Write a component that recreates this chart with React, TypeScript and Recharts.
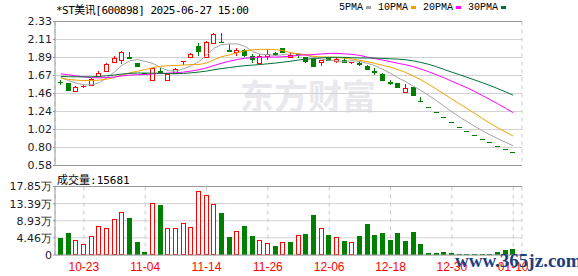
"use client"

import { Bar, ComposedChart, Line, XAxis, YAxis, CartesianGrid, ReferenceLine } from "recharts"

const dates = [
  "10-18", "10-21", "10-22", "10-23", "10-24", "10-25", "10-28", "10-29", "10-30", "10-31",
  "11-01", "11-04", "11-05", "11-06", "11-07", "11-08", "11-11", "11-12", "11-13", "11-14",
  "11-15", "11-18", "11-19", "11-20", "11-21", "11-22", "11-25", "11-26", "11-27", "11-28",
  "11-29", "12-02", "12-03", "12-04", "12-05", "12-06", "12-09", "12-10", "12-11", "12-12",
  "12-13", "12-16", "12-17", "12-18", "12-19", "12-20", "12-23", "12-24", "12-25", "12-26",
  "12-27", "12-30", "12-31", "01-02", "01-03", "01-06", "01-07", "01-08", "01-09", "01-10",
]

const opens = [
  1.60, 1.58, 1.48, 1.545, 1.56, 1.662, 1.73, 1.835, 1.863, 1.895,
  1.827, 1.70, 1.615, 1.725, 1.62, 1.702, 1.848, 1.896, 2.038, 1.90,
  2.066, 2.08, 1.98, 1.957, 1.981, 1.912, 1.827, 1.905, 1.945, 2.005,
  1.896, 1.935, 1.893, 1.872, 1.835, 1.884, 1.848, 1.863, 1.834, 1.822,
  1.795, 1.725, 1.698, 1.592, 1.577, 1.479, 1.528, 1.366, 1.29, 1.23,
  1.17, 1.11, 1.05, 1.00, 0.95, 0.90, 0.86, 0.82, 0.78, 0.74,
]
const highs = [
  1.62, 1.58, 1.55, 1.56, 1.645, 1.73, 1.82, 1.905, 1.97, 1.965,
  1.83, 1.70, 1.77, 1.76, 1.695, 1.76, 1.852, 1.945, 2.066, 2.09,
  2.19, 2.188, 2.06, 2.014, 2.00, 1.93, 1.93, 1.997, 1.965, 2.01,
  1.957, 1.935, 1.893, 1.875, 1.865, 1.90, 1.893, 1.90, 1.836, 1.849,
  1.80, 1.763, 1.70, 1.62, 1.58, 1.568, 1.53, 1.407, 1.29, 1.23,
  1.17, 1.11, 1.05, 1.00, 0.95, 0.90, 0.86, 0.82, 0.78, 0.74,
]
const lows = [
  1.56, 1.49, 1.48, 1.52, 1.555, 1.655, 1.72, 1.83, 1.811, 1.885,
  1.78, 1.70, 1.61, 1.69, 1.605, 1.70, 1.80, 1.89, 1.912, 1.89,
  2.06, 2.07, 1.97, 1.905, 1.90, 1.827, 1.82, 1.863, 1.912, 1.96,
  1.89, 1.885, 1.823, 1.775, 1.795, 1.855, 1.828, 1.83, 1.811, 1.79,
  1.74, 1.681, 1.62, 1.56, 1.52, 1.479, 1.43, 1.365, 1.29, 1.23,
  1.17, 1.11, 1.05, 1.00, 0.95, 0.90, 0.86, 0.82, 0.78, 0.74,
]
const closes = [
  1.59, 1.50, 1.53, 1.55, 1.633, 1.71, 1.81, 1.884, 1.965, 1.89,
  1.787, 1.70, 1.763, 1.72, 1.69, 1.754, 1.852, 1.941, 1.973, 2.079,
  2.184, 2.075, 1.975, 1.981, 1.924, 1.875, 1.908, 1.941, 1.94, 1.965,
  1.924, 1.93, 1.851, 1.795, 1.863, 1.86, 1.872, 1.835, 1.836, 1.818,
  1.747, 1.72, 1.625, 1.588, 1.54, 1.52, 1.438, 1.365, 1.29, 1.23,
  1.17, 1.11, 1.05, 1.00, 0.95, 0.90, 0.86, 0.82, 0.78, 0.74,
]
// closes of the 29 sessions before the window, needed for the moving averages
const priorCloses = [
  1.58, 1.57, 1.59, 1.60, 1.58, 1.56, 1.60, 1.62, 1.64, 1.66,
  1.72, 1.77, 1.81, 1.80, 1.78, 1.75, 1.72, 1.70, 1.71, 1.69,
  1.65, 1.62, 1.60, 1.62, 1.67, 1.69, 1.68, 1.66, 1.63,
]

// volume in 万
const volumes = [
  4.52, 5.75, 3.92, 2.88, 4.89, 7.50, 7.06, 9.33, 11.24, 9.67,
  3.40, 0.78, 13.59, 13.07, 7.06, 7.06, 8.36, 7.24, 16.73, 15.68,
  13.33, 10.98, 4.70, 6.27, 7.58, 4.97, 3.92, 3.14, 2.35, 3.40,
  3.40, 5.15, 5.49, 10.45, 7.06, 5.23, 4.63, 3.74, 3.40, 4.97,
  8.10, 5.23, 5.75, 4.00, 5.75, 3.74, 6.01, 2.88, 0.52, 0.52,
  0.78, 0.52, 0.30, 0.30, 0.30, 0.30, 0.30, 0.78, 1.31, 1.5681,
]
// 1 = red (up) volume bar, 0 = green
const volumeUp = [
  0, 0, 1, 1, 1, 1, 1, 1, 1, 0,
  0, 0, 1, 0, 1, 1, 1, 1, 1, 1,
  1, 0, 0, 1, 0, 0, 1, 1, 0, 1,
  0, 1, 0, 0, 1, 0, 1, 0, 1, 0,
  0, 0, 0, 0, 0, 0, 0, 0, 0, 0,
  0, 0, 0, 0, 0, 0, 0, 0, 0, 0,
]

const dateTicks = ["10-23", "11-04", "11-14", "11-26", "12-06", "12-18", "12-30", "01-10"]
const priceTickLabels = ["0.58", "0.80", "1.02", "1.24", "1.46", "1.67", "1.89", "2.11", "2.33"]
const volumeTickLabels = ["0", "4.46万", "8.93万", "13.39万", "17.85万"]

const maSeries = [
  { key: "ma5", label: "5PMA", days: 5, color: "#a3a3a3" },
  { key: "ma10", label: "10PMA", days: 10, color: "#f2a100" },
  { key: "ma20", label: "20PMA", days: 20, color: "#ff00ff" },
  { key: "ma30", label: "30PMA", days: 30, color: "#007038" },
]

const RED = "#ff0000"
const GREEN = "#008000"
const BORDER = "#9a9a9a"

const PRICE_MIN = 0.58
const PRICE_MAX = 2.33
const PRICE_STEP = (PRICE_MAX - PRICE_MIN) / 8
const VOL_MAX = 17.85
const VOL_STEP = VOL_MAX / 4
const priceTicks = priceTickLabels.map((_, i) => PRICE_MIN + i * PRICE_STEP)
const volumeTicks = volumeTickLabels.map((_, i) => i * VOL_STEP)

const allCloses = [...priorCloses, ...closes]
const movingAverage = (i: number, n: number) => {
  const end = priorCloses.length + i
  let s = 0
  for (let k = end - n + 1; k <= end; k++) s += allCloses[k]
  return s / n
}

const rows = dates.map((date, i) => {
  const row: any = {
    date,
    open: opens[i],
    high: highs[i],
    low: lows[i],
    close: closes[i],
    vol: volumes[i],
    volUp: volumeUp[i] === 1,
  }
  maSeries.forEach((m) => (row[m.key] = movingAverage(i, m.days)))
  return row
})

function Candle(props: any) {
  const { x, y, width, height, payload } = props
  if (x == null || y == null || !payload) return null
  const { open, close, high, low } = payload
  const rising = close > open || (close === open && payload.volUp)
  const color = rising ? RED : GREEN
  const left = Math.round(x)
  const w = Math.round(width)
  const cx = left + Math.floor(w / 2) + 0.5
  if (high === low || !height) {
    const yy = Math.round(y) + 0.5
    return <line x1={left} x2={left + w} y1={yy} y2={yy} stroke={color} />
  }
  const k = height / (high - low)
  const yOf = (v: number) => y + (high - v) * k
  const t = Math.round(yOf(Math.max(open, close)))
  const b = Math.round(yOf(Math.min(open, close)))
  return (
    <g>
      <line x1={cx} x2={cx} y1={Math.round(y)} y2={Math.round(y + height)} stroke={color} />
      {b - t < 1 ? (
        <line x1={left} x2={left + w} y1={t + 0.5} y2={t + 0.5} stroke={color} />
      ) : rising ? (
        <rect x={left + 0.5} y={t + 0.5} width={w - 1} height={b - t} fill="#fff" stroke={color} />
      ) : (
        <rect x={left} y={t} width={w} height={b - t + 1} fill={color} />
      )}
    </g>
  )
}

function VolumeBar(props: any) {
  const { x, y, width, height, payload } = props
  if (x == null || y == null || !payload) return null
  const left = Math.round(x)
  const w = Math.round(width)
  const t = Math.round(y)
  const b = Math.round(y + height)
  if (payload.volUp) {
    return <rect x={left + 0.5} y={t + 0.5} width={w - 1} height={Math.max(b - t - 1, 0)} fill="#fff" stroke={RED} />
  }
  return <rect x={left} y={t} width={w} height={Math.max(b - t, 1)} fill={GREEN} />
}

const axisFont = { fontSize: 11, fill: "#1c1c2c", fontFamily: "'DejaVu Sans', sans-serif" }

export default function App() {
  return (
    <div
      style={{
        position: "absolute",
        left: 0,
        top: 0,
        width: 578,
        height: 276,
        background: "#fff",
        overflow: "hidden",
      }}
    >
      <div
        style={{
          position: "absolute",
          left: 240,
          top: 70,
          fontSize: 34,
          fontWeight: "bold",
          color: "#e9e9ed",
          fontFamily: "'Noto Sans CJK SC', sans-serif",
          whiteSpace: "nowrap",
        }}
      >
        东方财富
      </div>

      <div
        style={{
          position: "absolute",
          left: 56,
          top: 1,
          fontSize: 11,
          letterSpacing: -0.5,
          fontFamily: "'DejaVu Sans Mono', 'Noto Sans CJK SC', monospace",
          color: "#000",
          whiteSpace: "nowrap",
        }}
      >
        *ST美讯[600898] 2025-06-27 15:00
      </div>

      <div
        style={{
          position: "absolute",
          left: 339,
          top: 2,
          display: "flex",
          alignItems: "center",
          fontSize: 10,
          fontFamily: "'Liberation Mono', monospace",
          color: "#000",
          whiteSpace: "nowrap",
        }}
      >
        {maSeries.map((m) => (
          <span key={m.key} style={{ display: "flex", alignItems: "center", marginRight: 7 }}>
            {m.label}
            <span style={{ display: "inline-block", width: 5, height: 3, background: m.color, marginLeft: 3 }} />
          </span>
        ))}
      </div>

      <div style={{ position: "absolute", left: 0, top: 0 }}>
        <ComposedChart
          width={578}
          height={178}
          data={rows}
          margin={{ top: 21.5, right: 56, bottom: 12.5, left: 0 }}
          barSize={5}
        >
          <CartesianGrid yAxisId="p" vertical={false} stroke="#d2d2d2" />
          <CartesianGrid yAxisId="p" horizontal={false} stroke="#c9c9c9" strokeDasharray="4 4" />
          <XAxis
            dataKey="date"
            ticks={dateTicks}
            interval={0}
            height={0}
            tick={false}
            tickLine={false}
            axisLine={false}
            padding={{ left: 2, right: 5 }}
          />
          <YAxis
            yAxisId="p"
            type="number"
            domain={[PRICE_MIN, PRICE_MAX]}
            ticks={priceTicks}
            interval={0}
            allowDataOverflow
            width={55}
            tick={axisFont}
            tickSize={2}
            tickMargin={1}
            tickLine={{ stroke: BORDER }}
            axisLine={{ stroke: BORDER }}
            tickFormatter={(v: number) => priceTickLabels[Math.round((v - PRICE_MIN) / PRICE_STEP)]}
          />
          <YAxis
            yAxisId="r"
            orientation="right"
            domain={[PRICE_MIN, PRICE_MAX]}
            width={0}
            tick={false}
            tickLine={false}
            axisLine={{ stroke: BORDER }}
          />
          <ReferenceLine yAxisId="p" y={PRICE_MAX} stroke={BORDER} />
          <ReferenceLine yAxisId="p" y={PRICE_MIN} stroke={BORDER} />
          <Bar
            yAxisId="p"
            dataKey={(d: any) => [d.low, d.high]}
            shape={(p: any) => <Candle {...p} />}
            isAnimationActive={false}
          />
          {maSeries.map((m) => (
            <Line
              key={m.key}
              yAxisId="p"
              type="linear"
              dataKey={m.key}
              stroke={m.color}
              strokeWidth={1}
              dot={false}
              activeDot={false}
              isAnimationActive={false}
            />
          ))}
        </ComposedChart>
      </div>

      <div
        style={{
          position: "absolute",
          left: 57,
          top: 171,
          fontSize: 11,
          fontFamily: "'DejaVu Sans Mono', 'Noto Sans CJK SC', monospace",
          color: "#000",
          whiteSpace: "nowrap",
        }}
      >
        成交量:{Math.round(volumes[volumes.length - 1] * 10000)}
      </div>

      <div style={{ position: "absolute", left: 0, top: 170 }}>
        <ComposedChart
          width={578}
          height={106}
          data={rows}
          margin={{ top: 16.5, right: 56, bottom: 0, left: 0 }}
          barSize={5}
        >
          <CartesianGrid yAxisId="v" vertical={false} stroke="#d2d2d2" />
          <CartesianGrid yAxisId="v" horizontal={false} stroke="#c9c9c9" strokeDasharray="4 4" />
          <XAxis
            dataKey="date"
            ticks={dateTicks}
            interval={0}
            height={21}
            tick={{ fontSize: 12, fill: RED, fontFamily: "'Liberation Sans', sans-serif" }}
            tickLine={false}
            tickSize={5}
            axisLine={{ stroke: BORDER }}
            padding={{ left: 2, right: 5 }}
          />
          <YAxis
            yAxisId="v"
            type="number"
            domain={[0, VOL_MAX]}
            ticks={volumeTicks}
            interval={0}
            allowDataOverflow
            width={55}
            tick={axisFont}
            tickSize={2}
            tickMargin={1}
            tickLine={{ stroke: BORDER }}
            axisLine={{ stroke: BORDER }}
            tickFormatter={(v: number) => volumeTickLabels[Math.round(v / VOL_STEP)]}
          />
          <YAxis
            yAxisId="r"
            orientation="right"
            domain={[0, VOL_MAX]}
            width={0}
            tick={false}
            tickLine={false}
            axisLine={{ stroke: BORDER }}
          />
          <ReferenceLine yAxisId="v" y={VOL_MAX} stroke={BORDER} />
          <Bar
            yAxisId="v"
            dataKey="vol"
            shape={(p: any) => <VolumeBar {...p} />}
            isAnimationActive={false}
          />
        </ComposedChart>
      </div>

      <div
        style={{
          position: "absolute",
          left: 455,
          top: 250,
          fontSize: 19,
          fontWeight: "bold",
          color: "#1e3d7b",
          fontFamily: "'Liberation Serif', serif",
          whiteSpace: "nowrap",
        }}
      >
        www.365jz.com
      </div>
    </div>
  )
}
